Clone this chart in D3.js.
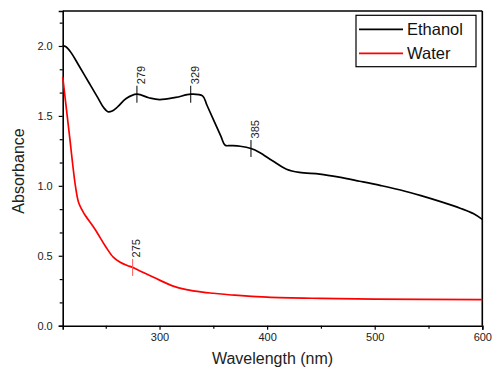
<!DOCTYPE html>
<html>
<head>
<meta charset="utf-8">
<script src="https://cdn.jsdelivr.net/npm/d3@7/dist/d3.min.js"></script>
<style>
  html, body { margin: 0; padding: 0; background: #fff; }
  svg { display: block; font-family: "Liberation Sans", Arial, sans-serif; }
</style>
</head>
<body>
<svg id="chart" width="492" height="374"></svg>
<script>
// ---- data ----
const ethanolWL = [210, 213, 218, 225, 235, 243, 248, 252, 256, 261, 269, 279, 290, 300, 315, 329, 340, 344, 357, 361, 366, 375, 385, 393, 405, 418, 430, 449, 467, 486, 505, 524, 543, 562, 580, 592, 600];
const ethanolA  = [2.00, 1.995, 1.95, 1.86, 1.73, 1.625, 1.56, 1.53, 1.535, 1.564, 1.624, 1.655, 1.63, 1.617, 1.632, 1.655, 1.643, 1.578, 1.355, 1.29, 1.288, 1.283, 1.267, 1.239, 1.179, 1.119, 1.096, 1.084, 1.062, 1.033, 1.003, 0.97, 0.93, 0.885, 0.838, 0.8, 0.76];
const waterWL = [210, 216, 222, 225, 230, 240, 250, 257, 263, 270, 275, 285, 300, 312, 325, 340, 350, 370, 400, 450, 500, 600];
const waterA  = [1.78, 1.38, 0.99, 0.875, 0.80, 0.69, 0.565, 0.49, 0.455, 0.43, 0.417, 0.38, 0.326, 0.285, 0.258, 0.24, 0.232, 0.218, 0.204, 0.195, 0.19, 0.186];
const peakSeries = ["Ethanol", "Ethanol", "Ethanol", "Water"];
const peakWL     = [279, 329, 385, 275];
const peakA      = [1.655, 1.655, 1.267, 0.417];
const peakLabels = ["279", "329", "385", "275"];
const xTicks = [300, 400, 500, 600];
const xMinor = [250, 350, 450, 550];
const yTicks = [0.0, 0.5, 1.0, 1.5, 2.0];
const yMinor = [0.5/3, 1/3, 0.5+0.5/3, 0.5+1/3, 1+0.5/3, 1+1/3, 1.5+0.5/3, 1.5+1/3, 2+0.5/3];
const seriesNames = ["Ethanol", "Water"];
const seriesColors = ["#000000", "#ff0000"];

// ---- layout ----
const svg = d3.select("#chart");
const L = 62.7, R = 482.3, T = 11, B = 325.7;
const x = d3.scaleLinear().domain([210, 600]).range([L, R]);
const y = d3.scaleLinear().domain([0, 2.25]).range([B, T]);

// axes
svg.append("g").attr("transform", `translate(0,${B})`)
  .call(d3.axisBottom(x).tickValues(xTicks).tickFormat(d3.format("d")).tickSize(4).tickPadding(4));
svg.append("g").attr("transform", `translate(0,${B})`)
  .call(d3.axisBottom(x).tickValues(xMinor).tickFormat("").tickSize(3))
  .call(g => g.select(".domain").remove());
svg.append("g").attr("transform", `translate(${L},0)`)
  .call(d3.axisLeft(y).tickValues(yTicks).tickFormat(d3.format(".1f")).tickSize(4).tickPadding(6));
svg.append("g").attr("transform", `translate(${L},0)`)
  .call(d3.axisLeft(y).tickValues(yMinor).tickFormat("").tickSize(3))
  .call(g => g.select(".domain").remove());

svg.selectAll(".domain").attr("stroke-width", 1.6);
svg.selectAll(".tick line").attr("stroke-width", 1.2);
svg.selectAll(".tick text").attr("font-size", 11).attr("fill", "#222")
  .attr("font-family", "Liberation Sans, Arial, sans-serif");

// top & right frame
svg.append("line").attr("x1", L).attr("x2", R).attr("y1", T).attr("y2", T).attr("stroke", "#000").attr("stroke-width", 1.6);
svg.append("line").attr("x1", R).attr("x2", R).attr("y1", T).attr("y2", B).attr("stroke", "#000").attr("stroke-width", 1.6);

// axis titles
svg.append("text").attr("x", (L + R) / 2).attr("y", 364).attr("text-anchor", "middle")
  .attr("font-size", 16).attr("fill", "#222").text("Wavelength (nm)");
svg.append("text").attr("transform", `translate(24,171) rotate(-90)`).attr("text-anchor", "middle")
  .attr("font-size", 16).attr("fill", "#222").text("Absorbance");

// lines
const line = d3.line().x(d => x(d[0])).y(d => y(d[1])).curve(d3.curveCatmullRom.alpha(0.5));
const eth = ethanolWL.map((w, i) => [w, ethanolA[i]]);
const wat = waterWL.map((w, i) => [w, waterA[i]]);
svg.append("path").datum(wat).attr("d", line).attr("fill", "none").attr("stroke", seriesColors[1]).attr("stroke-width", 1.7);
svg.append("path").datum(eth).attr("d", line).attr("fill", "none").attr("stroke", seriesColors[0]).attr("stroke-width", 1.7);

// peak markers
peakWL.forEach((w, i) => {
  const px = x(w), py = y(peakA[i]);
  const col = peakSeries[i] === "Water" ? "#ff5a5a" : "#000";
  svg.append("line").attr("x1", px).attr("x2", px).attr("y1", py - 8.5).attr("y2", py + 8.5)
    .attr("stroke", col).attr("stroke-width", 1);
  svg.append("text").attr("transform", `translate(${px + 4},${py - 10}) rotate(-90)`)
    .attr("text-anchor", "start").attr("dy", "0.35em")
    .attr("font-size", 11).attr("fill", "#222").text(peakLabels[i]);
});

// legend
const lg = svg.append("g");
lg.append("rect").attr("x", 356).attr("y", 15.3).attr("width", 120).attr("height", 51.4)
  .attr("fill", "#fff").attr("stroke", "#000").attr("stroke-width", 1.2);
const legY = [29.3, 53.3];
seriesNames.forEach((n, i) => {
  lg.append("line").attr("x1", 359).attr("x2", 403).attr("y1", legY[i]).attr("y2", legY[i])
    .attr("stroke", seriesColors[i]).attr("stroke-width", 1.7);
  lg.append("text").attr("x", 407).attr("y", legY[i]).attr("dy", "0.36em")
    .attr("font-size", 16.5).attr("fill", "#111").text(n);
});
</script>
</body>
</html>
